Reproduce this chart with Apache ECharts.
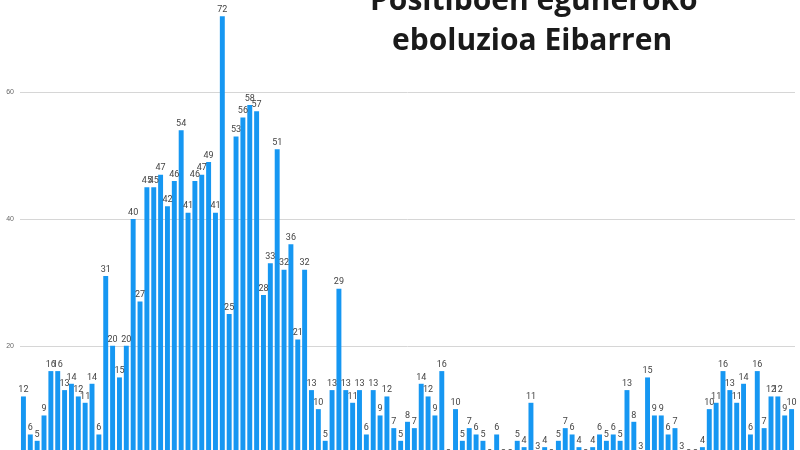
<!DOCTYPE html>
<html>
<head>
<meta charset="utf-8">
<script src="https://cdn.jsdelivr.net/npm/echarts@6/dist/echarts.min.js"></script>
<style>html,body{margin:0;padding:0;background:#fff;overflow:hidden}#wrap{width:800px;height:450px;overflow:hidden;position:relative}#main{width:800px;height:514px;position:absolute;top:-38px;left:0}</style>
</head>
<body>
<div id="wrap"><div id="main"></div></div>
<script>
// eguneko positiboak
var values = [12,6,5,9,16,16,13,14,12,11,14,6,31,20,15,20,40,27,45,45,47,42,46,54,41,46,47,49,41,72,25,53,56,58,57,28,33,
	51,32,36,21,32,13,10,5,13,29,13,11,13,6,13,9,12,7,5,8,7,14,12,9,16,
	2,10,5,7,6,5,2,6,2,2,5,4,11,
	3,4,2,5,7,6,4,2,4,6,5,6,5,13,8,3,15,9,9,6,7,3,2,2,4,10,11,16,13,11,14,6,16,7,12,12,9,10];
var days = values.map(function(v, i){ return 'e' + (i + 1); });
var yTicks = [0, 20, 40, 60, 80];

// chart canvas is taller than the window and shifted up so the picture is cropped like the reference
var chart = echarts.init(document.getElementById('main'));
chart.setOption({
	animation: false,
	graphic: [
		{type:'text', top:24, left:370, style:{text:'Positiboen eguneroko', fontSize:30, fontWeight:'bold', fill:'#1a1a1a', fontFamily:'Open Sans'}},
		{type:'text', top:64, left:392, style:{text:'eboluzioa Eibarren', fontSize:30, fontWeight:'bold', fill:'#1a1a1a', fontFamily:'Open Sans'}}
	],
	grid: {left:20, right:5, top:0, bottom:0},
	xAxis: {
		type:'category', data:days,
		axisLine:{show:false}, axisTick:{show:false}, axisLabel:{show:false}
	},
	yAxis: {
		type:'value', min:yTicks[0], max:yTicks[yTicks.length-1], interval:20,
		axisLabel:{fontSize:7, color:'#666', margin:6, inside:false},
		splitLine:{lineStyle:{color:'#d6d6d6'}}
	},
	series: [{
		type:'bar', data:values, barCategoryGap:'28%',
		itemStyle:{color:'#1697f2'},
		label:{show:true, position:'top', distance:2, fontSize:9, color:'#444', fontFamily:'Roboto'}
	}]
});
</script>
</body>
</html>
